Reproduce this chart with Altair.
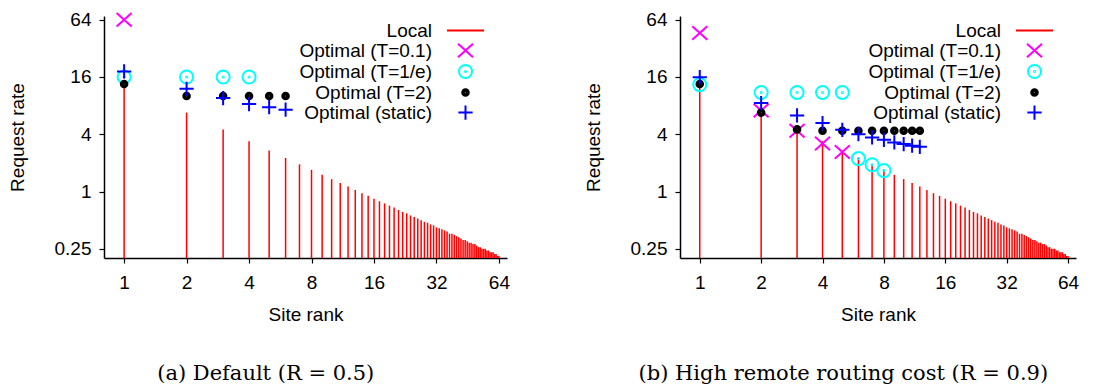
import altair as alt
import pandas as pd

SERIES = ["Local", "Optimal (T=0.1)", "Optimal (T=1/e)", "Optimal (T=2)", "Optimal (static)"]
COLORS = ["#ff0000", "#ff00ff", "#00ffff", "#000000", "#0000ff"]

# marker glyphs (unit square paths, stroked)
SHAPES = [
    "M-2.47,0L2.47,0",
    "M-1,-0.9L1,0.9M-1,0.9L1,-0.9",
    "M0.87,0A0.87,0.87,0,1,1,-0.87,0A0.87,0.87,0,1,1,0.87,0ZM0.07,0A0.07,0.07,0,1,1,-0.07,0A0.07,0.07,0,1,1,0.07,0Z",
    "M0.44,0A0.44,0.44,0,1,1,-0.44,0A0.44,0.44,0,1,1,0.44,0ZM0.26,0A0.26,0.26,0,1,1,-0.26,0A0.26,0.26,0,1,1,0.26,0ZM0.08,0A0.08,0.08,0,1,1,-0.08,0A0.08,0.08,0,1,1,0.08,0Z",
    "M-0.95,0L0.95,0M0,-0.95L0,0.95",
]

# Local request rate per site rank (same in both panels)
local_rank = list(range(1, 65))
local_rate = [13.5, 6.75, 4.5, 3.38, 2.7, 2.25, 1.93, 1.69, 1.5, 1.35,
              1.23, 1.13, 1.04, 0.96, 0.9, 0.84, 0.79, 0.75, 0.71, 0.68,
              0.64, 0.61, 0.59, 0.56, 0.54, 0.52, 0.5, 0.48, 0.47, 0.45,
              0.44, 0.42, 0.41, 0.4, 0.39, 0.38, 0.36, 0.36, 0.35, 0.34,
              0.33, 0.32, 0.31, 0.31, 0.3, 0.29, 0.29, 0.28, 0.28, 0.27,
              0.26, 0.26, 0.25, 0.25, 0.25, 0.24, 0.24, 0.23, 0.23, 0.23,
              0.22, 0.22, 0.21, 0.21]

# Panel (a): R = 0.5
a_t01_rank = [1]
a_t01_rate = [64]
a_t1e_rank = [1, 2, 3, 4]
a_t1e_rate = [16, 16, 16, 16]
a_t2_rank = [1, 2, 3, 4, 5, 6]
a_t2_rate = [13.5, 10.1, 10.1, 10.1, 10.1, 10.1]
a_st_rank = [1, 2, 3, 4, 5, 6]
a_st_rate = [18.3, 12.0, 9.6, 8.3, 7.7, 7.25]

# Panel (b): R = 0.9
b_t01_rank = [1, 2, 3, 4, 5]
b_t01_rate = [46.4, 7.1, 4.35, 3.2, 2.6]
b_t1e_rank = [1, 2, 3, 4, 5, 6, 7, 8]
b_t1e_rate = [13.3, 11.0, 11.0, 11.0, 11.0, 2.22, 1.91, 1.66]
b_t2_rank = [1, 2, 3, 4, 5, 6, 7, 8, 9, 10, 11, 12]
b_t2_rate = [13.5, 6.75, 4.5, 4.35, 4.35, 4.35, 4.35, 4.35, 4.35, 4.35, 4.35, 4.35]
b_st_rank = [1, 2, 3, 4, 5, 6, 7, 8, 9, 10, 11, 12]
b_st_rate = [15.9, 8.5, 6.3, 5.25, 4.45, 4.0, 3.7, 3.5, 3.28, 3.15, 3.03, 2.95]

X_TICKS = [1, 2, 4, 8, 16, 32, 64]
Y_TICKS = [0.25, 1, 4, 16, 64]

SANS = "Liberation Sans"
SERIF = "DejaVu Serif"


def frame(pairs):
    rows = []
    for name, ranks, rates in pairs:
        for k, v in zip(ranks, rates):
            rows.append({"series": name, "rank": k, "rate": v, "order": SERIES.index(name)})
    return pd.DataFrame(rows)


def panel(df, width, caption, legend_x, caption_dx):
    legend = alt.Legend(
        orient="none", legendX=legend_x, legendY=5, title=None,
        labelAlign="right", labelOffset={"expr": "-43"}, labelBaseline="middle",
        labelFont=SANS, labelFontSize=19, labelColor="black",
        symbolSize=225, symbolStrokeWidth=2, symbolFillColor="transparent",
        rowPadding={"expr": "-3.4"}, padding=0, offset=0, labelLimit=400,
    )
    color = alt.Color("series:N", scale=alt.Scale(domain=SERIES, range=COLORS), legend=legend)
    shape = alt.Shape("series:N", scale=alt.Scale(domain=SERIES, range=SHAPES), legend=legend)
    xs = alt.Scale(type="log", base=2, domain=[0.8, 70], nice=False)
    ys = alt.Scale(type="log", base=2, domain=[0.2, 70], nice=False)
    xaxis = alt.Axis(values=X_TICKS, format="~g", title="Site rank", grid=False,
                     labelFontSize=19, titleFontSize=19, labelFont=SANS, titleFont=SANS,
                     titleFontWeight="normal", labelColor="black", titleColor="black",
                     domainColor="black", domainWidth=1.5, tickColor="black", tickWidth=1.2,
                     tickSize=5, labelPadding=10, titlePadding=13, labelFlush=False)
    yaxis = alt.Axis(values=Y_TICKS, format="~g", title="Request rate", grid=False,
                     labelFontSize=19, titleFontSize=19, labelFont=SANS, titleFont=SANS,
                     titleFontWeight="normal", labelColor="black", titleColor="black",
                     domainColor="black", domainWidth=1.5, tickColor="black", tickWidth=1.2,
                     tickSize=5, labelPadding=8, titlePadding=27, labelFlush=False)

    stems = alt.Chart(df).transform_filter(alt.datum.series == "Local").mark_rule(
        strokeWidth=1.5
    ).encode(
        x=alt.X("rank:Q", scale=xs, axis=xaxis),
        y=alt.Y("rate:Q", scale=ys, axis=yaxis),
        y2=alt.datum(0.2),
        color=color,
    )
    pts = alt.Chart(df).transform_filter(alt.datum.series != "Local").mark_point(
        filled=False, strokeWidth=2, size=225, opacity=1
    ).encode(
        x=alt.X("rank:Q", scale=xs, axis=xaxis),
        y=alt.Y("rate:Q", scale=ys, axis=yaxis),
        color=color,
        shape=shape,
        fill=alt.value("transparent"),
        order=alt.Order("order:Q"),
    )
    return alt.layer(stems, pts).properties(
        width=width, height=242,
        title=alt.TitleParams(caption, orient="bottom", font=SERIF, fontSize=21,
                              fontWeight="normal", color="black", anchor="middle",
                              frame="bounds", offset=39, dx=caption_dx),
    )


df_a = frame([
    ("Local", local_rank, local_rate),
    ("Optimal (T=0.1)", a_t01_rank, a_t01_rate),
    ("Optimal (T=1/e)", a_t1e_rank, a_t1e_rate),
    ("Optimal (T=2)", a_t2_rank, a_t2_rate),
    ("Optimal (static)", a_st_rank, a_st_rate),
])
df_b = frame([
    ("Local", local_rank, local_rate),
    ("Optimal (T=0.1)", b_t01_rank, b_t01_rate),
    ("Optimal (T=1/e)", b_t1e_rank, b_t1e_rate),
    ("Optimal (T=2)", b_t2_rank, b_t2_rate),
    ("Optimal (static)", b_st_rank, b_st_rate),
])

left = panel(df_a, 403, "(a) Default (R = 0.5)", 352, 7)
right = panel(df_b, 396, "(b) High remote routing cost (R = 0.9)", 345, 12)

chart = alt.hconcat(left, right, spacing=74).resolve_scale(
    color="independent", shape="independent", x="independent", y="independent"
).resolve_legend(color="independent", shape="independent").configure_view(
    stroke=None
).properties(padding={"left": 0, "top": 0, "right": 0, "bottom": 0})

chart.save("out.html", embed_options={"renderer": "svg", "actions": False})
